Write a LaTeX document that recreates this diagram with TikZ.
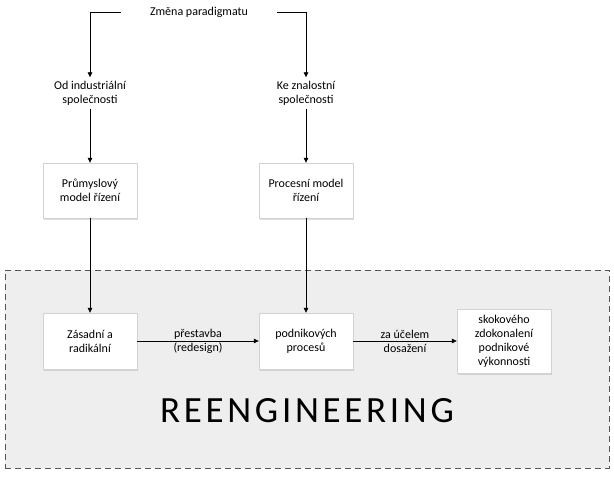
\documentclass[tikz,border=0pt]{standalone}
\usepackage{fontspec}
\setmainfont{Carlito}
\newfontfamily\bigfont[LetterSpace=10]{Carlito}
\usepackage{tikz}
\usepackage{xcolor}
\usetikzlibrary{shapes,arrows.meta,positioning,shadows,backgrounds}

\definecolor{framegray}{HTML}{EEEEEE}
\definecolor{linegray}{HTML}{555555}

\begin{document}
\begin{tikzpicture}[x=1pt, y=-1pt, font=\fontsize{12}{14}\selectfont,
        box/.style={draw=gray!35, fill=white, minimum width=94pt, minimum height=55pt, align=center,
            drop shadow={shadow xshift=1pt, shadow yshift=-1.5pt, opacity=0.25}},
        lbl/.style={align=center},
        arr/.style={-{Triangle[length=5pt, width=4.5pt]}, line width=0.7pt}]
        \useasboundingbox (0,0) rectangle (614,477);

        % Reengineering frame
        \node [draw=linegray, dash pattern=on 6pt off 4pt, line width=0.9pt, fill=framegray,
            minimum width=604pt, minimum height=198pt] (frame) at (307,369) {};
        \node [font=\bigfont\fontsize{37}{44}\selectfont] (reeng) at (307,411) {REENGINEERING};

        % Paradigm change
        \node [minimum width=156pt] (zmena) at (199,12) {Změna paradigmatu};
        \node [lbl] (od) at (90,93) {Od industriální\\společnosti};
        \node [lbl] (ke) at (306,93) {Ke znalostní\\společnosti};

        % Management models
        \node [box] (prum) at (90,190.5) {Průmyslový\\model řízení};
        \node [box] (proc) at (306,190.5) {Procesní model\\řízení};

        % Process chain
        \node [box, minimum height=56pt] (zas) at (90,341) {Zásadní a\\radikální};
        \node [box, minimum height=56pt] (podn) at (306,341) {podnikových\\procesů};
        \node [box, minimum height=64pt] (skok) at (504,341) {skokového\\zdokonalení\\podnikové\\výkonnosti};

        % Connectors
        \draw [arr] (zmena.west) -| (od.north);
        \draw [arr] (zmena.east) -| (ke.north);
        \draw [arr] (od.south) -- (prum.north);
        \draw [arr] (ke.south) -- (proc.north);
        \draw [arr] (prum.south) -- (zas.north);
        \draw [arr] (proc.south) -- (podn.north);
        \draw [arr] (zas.east) -- node [lbl] (prestavba) {přestavba\\(redesign)} (podn.west);
        \draw [arr] (podn.east) -- node [lbl] (ucel) {za účelem\\dosažení} (skok.west);
\end{tikzpicture}
\end{document}
